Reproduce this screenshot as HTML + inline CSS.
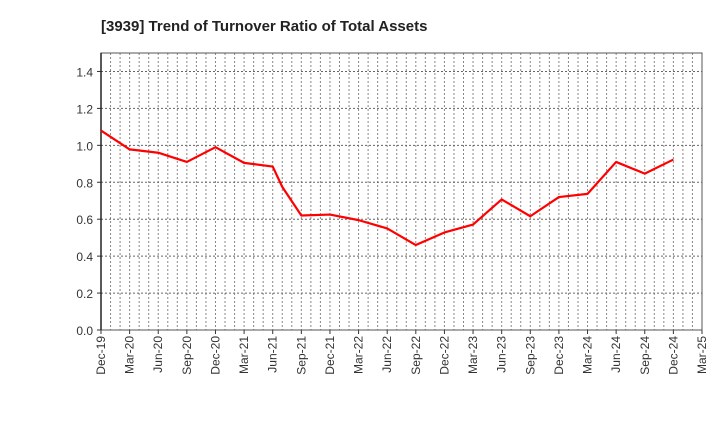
<!DOCTYPE html>
<html><head><meta charset="utf-8"><style>
body{margin:0;background:#fff;}
svg text{font-family:"Liberation Sans",sans-serif;}
</style></head><body>
<svg id="chart" width="720" height="440" xmlns="http://www.w3.org/2000/svg">
<text x="101" y="31" font-size="15" font-weight="bold" fill="#222">[3939]  Trend of Turnover Ratio of Total Assets</text>
<g id="grid"></g>
<g id="axes"></g>
<polyline id="line" fill="none" stroke="#ff0000" stroke-width="2.2" stroke-linejoin="round"/>
</svg>
<script>
const months = [0,3,6,9,12,15,18,19,21,24,27,30,33,36,39,42,45,48,51,54,57,60];
const values = [1.08,0.978,0.96,0.91,0.99,0.905,0.885,0.775,0.62,0.625,0.595,0.55,0.46,0.528,0.571,0.707,0.616,0.72,0.737,0.91,0.847,0.923];
const xLabels = ["Dec-19","Mar-20","Jun-20","Sep-20","Dec-20","Mar-21","Jun-21","Sep-21","Dec-21","Mar-22","Jun-22","Sep-22","Dec-22","Mar-23","Jun-23","Sep-23","Dec-23","Mar-24","Jun-24","Sep-24","Dec-24","Mar-25"];
const yTicks = [0,0.2,0.4,0.6,0.8,1.0,1.2,1.4];
const L=101,R=702,T=53,B=330,NM=63,YMAX=1.5;
const sx=m=>L+m*(R-L)/NM, sy=v=>B-v*(B-T)/YMAX;
const ns="http://www.w3.org/2000/svg";
const grid=document.getElementById('grid'), axes=document.getElementById('axes');
function mk(tag,attrs,parent){const e=document.createElementNS(ns,tag);for(const k in attrs)e.setAttribute(k,attrs[k]);parent.appendChild(e);return e;}
for(let m=1;m<NM;m++){
  const l=mk('line',{x1:sx(m),x2:sx(m),y1:T,y2:B,stroke:'#888','stroke-width':1,'stroke-dasharray':'2,2'},grid);
  
  
}
yTicks.forEach(v=>{
  if(v>0){const l=mk('line',{x1:L,x2:R,y1:sy(v),y2:sy(v),stroke:'#666','stroke-width':1,'stroke-dasharray':'2,2'},grid);
  
  }
  const t=mk('text',{x:L-8,y:sy(v)+5,'text-anchor':'end','font-size':12,fill:'#333'},axes);
  t.textContent=v.toFixed(1);
  
  
  const tk=mk('line',{x1:L-4,x2:L,y1:sy(v),y2:sy(v),stroke:'#333'},axes);
  
  
});
xLabels.forEach((s,i)=>{
  const x=sx(i*3);
  const t=mk('text',{x:0,y:0,'text-anchor':'end','font-size':12,fill:'#333',transform:`translate(${x+4},${B+6}) rotate(-90)`},axes);
  t.textContent=s;
  
  
  const tk=mk('line',{x1:x,x2:x,y1:B,y2:B+4,stroke:'#333'},axes);
  
  
});
const fr=mk('rect',{x:L,y:T,width:R-L,height:B-T,fill:'none',stroke:'#555','stroke-width':1},axes);


const la=mk('line',{x1:L,x2:L,y1:T,y2:B,stroke:'#222','stroke-width':1.5},axes);


document.getElementById('line').setAttribute('points',months.map((m,i)=>sx(m)+','+sy(values[i])).join(' '));
</script>
</body></html>
